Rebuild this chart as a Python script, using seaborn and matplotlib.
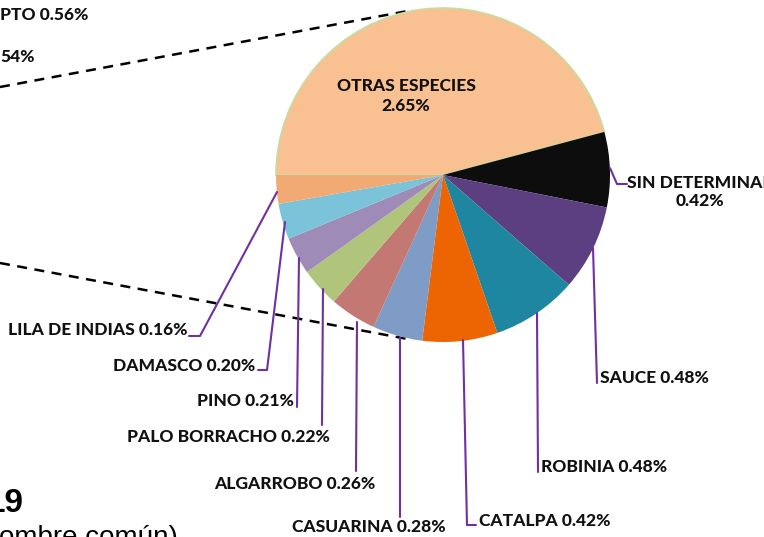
import matplotlib
matplotlib.use("Agg")
import matplotlib.pyplot as plt
import seaborn as sns

# pie values (% of trees), clockwise from the left edge
species = ["OTRAS ESPECIES", "SIN DETERMINAR", "SAUCE", "ROBINIA", "CATALPA",
           "CASUARINA", "ALGARROBO", "PALO BORRACHO", "PINO", "DAMASCO",
           "LILA DE INDIAS"]
pct = [2.65, 0.42, 0.48, 0.48, 0.42, 0.28, 0.26, 0.22, 0.21, 0.20, 0.16]
colors = ["#F9C191", "#0D0D0D", "#5C3F80", "#1E86A0", "#EC6502", "#7E9CC6",
          "#C47874", "#B0C47C", "#9E8BB8", "#7BC3D8", "#F2AA74"]

# leader lines and label anchors (pixel layout)
leaders = {
    "SIN DETERMINAR": [(610, 168), (617, 184), (627, 184)],
    "SAUCE": [(593, 248), (597, 383)],
    "ROBINIA": [(537, 313), (538, 472)],
    "CATALPA": [(463, 340), (467, 525), (476, 525)],
    "CASUARINA": [(400, 338), (400, 517)],
    "ALGARROBO": [(357, 322), (356, 471)],
    "PALO BORRACHO": [(323, 289), (322, 425)],
    "PINO": [(299, 258), (297, 407)],
    "DAMASCO": [(285, 222), (267, 370), (258, 370)],
    "LILA DE INDIAS": [(277, 192), (200, 336), (189, 336)],
}
label_pos = {
    "SIN DETERMINAR": (700, 192, "center"),
    "SAUCE": (600, 378, "left"),
    "ROBINIA": (541, 467, "left"),
    "CATALPA": (479, 521, "left"),
    "CASUARINA": (446, 527, "right"),
    "ALGARROBO": (375, 484, "right"),
    "PALO BORRACHO": (330, 437, "right"),
    "PINO": (294, 401, "right"),
    "DAMASCO": (255, 366, "right"),
    "LILA DE INDIAS": (187, 330, "right"),
}

sns.set_theme(style="white")
plt.rcParams["font.family"] = ["Lato", "DejaVu Sans"]

W, H = 764, 537
fig = plt.figure(figsize=(W / 100, H / 100), dpi=100)
ax = fig.add_axes([0, 0, 1, 1])

# dashed connector lines from the bar side (off to the left)
ax.plot([0, 413], [87, 10], ls=(0, (4, 3)), color="black", lw=1.8, zorder=0)
ax.plot([0, 413], [263, 340], ls=(0, (4, 3)), color="black", lw=1.8, zorder=0)

wedges, _ = ax.pie(pct, colors=colors, startangle=180, counterclock=True,
                   center=(443, 175), radius=167,
                   wedgeprops=dict(linewidth=0))
wedges[0].set_edgecolor("#C6DCA0")
wedges[0].set_linewidth(1.2)

ax.set_xlim(0, W)
ax.set_ylim(H, 0)
ax.set_aspect("equal")
ax.axis("off")

txt = dict(fontsize=12.5, fontweight="black", color="#111111")
for name, p in zip(species, pct):
    if name == "OTRAS ESPECIES":
        ax.text(406, 96, f"{name}\n{p:.2f}%", ha="center", va="center",
                linespacing=1.35, **txt)
        continue
    xs, ys = zip(*leaders[name])
    ax.plot(xs, ys, color="#7030A0", lw=1.5, zorder=3)
    x, y, ha = label_pos[name]
    if name == "SIN DETERMINAR":
        ax.text(x, y, f"{name}\n{p:.2f}%", ha="center", va="center",
                linespacing=1.2, **txt)
    else:
        ax.text(x, y, f"{name} {p:.2f}%", ha=ha, va="center", **txt)

# fragments of the neighbouring chart, cut by the crop
ax.text(0, 15, "PTO 0.56%", ha="left", va="center", **txt)
ax.text(0, 57, "54%", ha="left", va="center", **txt)
ax.text(24, 512, "19", ha="right", va="baseline", fontsize=24,
        fontweight="bold", family="Liberation Sans", color="black")
ax.text(-1, 545, "ombre común)", ha="left", va="baseline", fontsize=20,
        family="Liberation Sans", color="black")

fig.savefig("out.png", dpi=100)
